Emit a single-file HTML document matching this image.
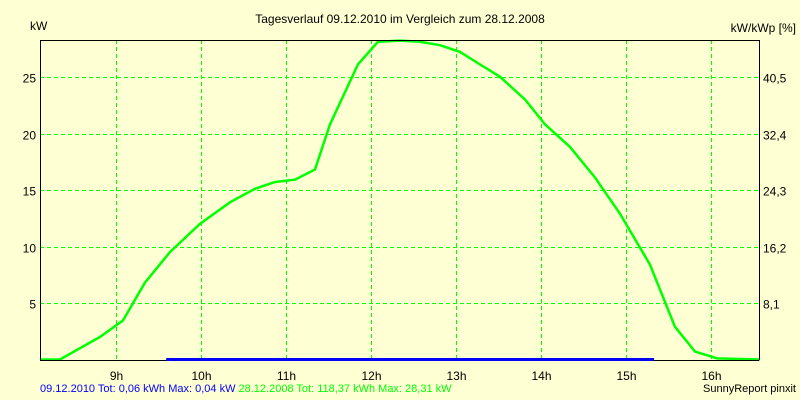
<!DOCTYPE html>
<html><head><meta charset="utf-8"><style>
body{margin:0;background:#ffffd4;}
svg{display:block;font-family:"Liberation Sans",sans-serif;}
</style></head><body>
<svg id="c" width="800" height="400" xmlns="http://www.w3.org/2000/svg">
<rect width="800" height="400" fill="#ffffd4"/>
<text x="400" y="23" font-size="12" text-anchor="middle">Tagesverlauf 09.12.2010 im Vergleich zum 28.12.2008</text>
<text x="30" y="30" font-size="12">kW</text>
<text x="796" y="32" font-size="12" text-anchor="end">kW/kWp [%]</text>
<g id="grid"></g><g id="series"></g><g id="axes"></g>
<text x="40" y="392" font-size="11"><tspan fill="#0000ff">09.12.2010 Tot: 0,06 kWh Max: 0,04 kW </tspan><tspan fill="#00ff00">28.12.2008 Tot: 118,37 kWh Max: 28,31 kW</tspan></text>
<text x="796" y="392" font-size="11" text-anchor="end">SunnyReport pinxit</text>
</svg>
<script>
const hourTicks=[9,10,11,12,13,14,15,16];
const yTicks=[5,10,15,20,25];
const y2Labels=["8,1","16,2","24,3","32,4","40,5"];
const times2008=[8.106,8.341,8.576,8.812,9.082,9.341,9.635,9.988,10.341,10.635,10.871,11.106,11.341,11.518,11.847,12.082,12.341,12.576,12.812,13.047,13.282,13.518,13.812,14.047,14.341,14.635,14.929,15.282,15.576,15.812,16.071,16.576];
const kw2008=[0,0,1.0,2.0,3.45,6.8,9.5,12,13.9,15.1,15.7,15.9,16.8,20.8,26.1,28.1,28.2,28.1,27.8,27.2,26.1,25,23,20.8,18.8,16.1,12.9,8.4,2.9,0.7,0.1,0];
const times2010=[9.59,15.33];
const kw2010=[0,0];
const L=40,R=759,T=40,B=360,X0=8.106,X1=16.565,YMAX=28.3;
const sx=h=>L+(h-X0)/(X1-X0)*(R-L);
const sy=v=>B-v/YMAX*(B-T);
const NS="http://www.w3.org/2000/svg";
function mk(p,tag,a){const e=document.createElementNS(NS,tag);for(const k in a)e.setAttribute(k,a[k]);p.appendChild(e);return e;}
const g=document.getElementById('grid'),s=document.getElementById('series'),ax=document.getElementById('axes');
hourTicks.forEach(h=>{const x=Math.round(sx(h))+.5;
 const l=mk(g,'line',{x1:x,x2:x,y1:T,y2:B,stroke:'#00ff00','stroke-dasharray':'4,3'});
 
 const t=mk(ax,'text',{x:x,y:B+20,'font-size':12,'text-anchor':'middle'});t.textContent=h+'h';
 });
yTicks.forEach((v,i)=>{const y=Math.round(sy(v))+.5;
 const l=mk(g,'line',{x1:L,x2:R,y1:y,y2:y,stroke:'#00ff00','stroke-dasharray':'4,3'});
 
 const t=mk(ax,'text',{x:36,y:y+5,'font-size':12,'text-anchor':'end'});t.textContent=v;
 
 const t2=mk(ax,'text',{x:763,y:y+5,'font-size':12});t2.textContent=y2Labels[i];
 });
const fr=mk(ax,'path',{d:`M${L+.5},${B} V${T+.5} H${R+.5} V${B}`,fill:'none',stroke:'#000'});

const bl=mk(ax,'line',{x1:L,x2:R,y1:B+.5,y2:B+.5,stroke:'#000'});

const p1=mk(s,'polyline',{points:times2008.map((t,i)=>sx(t)+','+(sy(kw2008[i])-0.5)).join(' '),fill:'none',stroke:'#00ff00','stroke-width':2.5});

const p2=mk(ax,'polyline',{points:times2010.map((t,i)=>sx(t)+','+(sy(kw2010[i])-0.5)).join(' '),fill:'none',stroke:'#0000ff','stroke-width':3});

</script>
</body></html>
